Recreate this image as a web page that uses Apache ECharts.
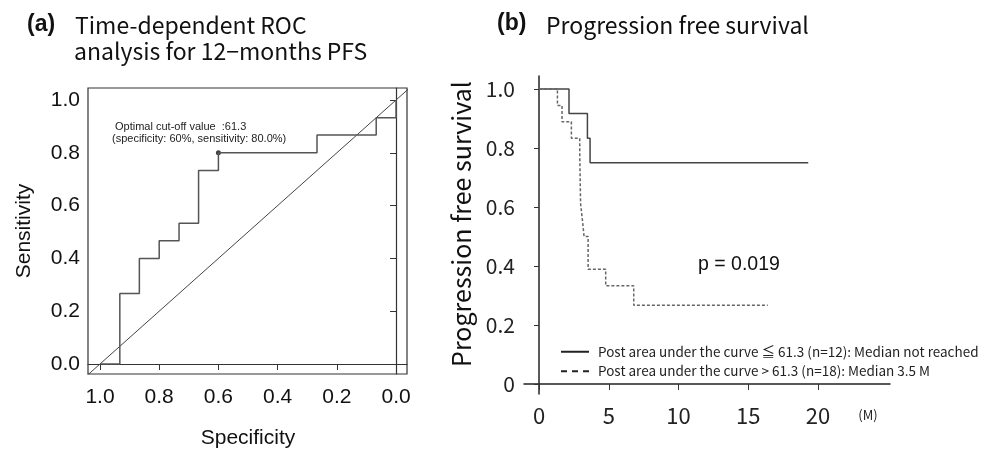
<!DOCTYPE html>
<html><head><meta charset="utf-8">
<script src="https://cdn.jsdelivr.net/npm/echarts@6.0.0/dist/echarts.min.js"></script>
<style>html,body{margin:0;padding:0;background:#fff}#c{width:987px;height:450px}</style>
</head><body><div id="c"></div>
<script>
// ---- Panel (a): time-dependent ROC ----
const rocSpecificity = [1.0, 0.933, 0.933, 0.867, 0.867, 0.8, 0.8, 0.733, 0.733, 0.667, 0.667, 0.6, 0.6, 0.267, 0.267, 0.067, 0.067, 0.0, 0.0];
const rocSensitivity = [0.0, 0.0, 0.267, 0.267, 0.4, 0.4, 0.467, 0.467, 0.533, 0.533, 0.733, 0.733, 0.8, 0.8, 0.867, 0.867, 0.933, 0.933, 1.0];
const cutoffSpecificity = [0.6];
const cutoffSensitivity = [0.8];
const refSpecificity = [1.05, -0.05];
const refSensitivity = [-0.05, 1.05];
const rocTicks = [0, 0.2, 0.4, 0.6, 0.8, 1.0];
const rocTickLabels = ['0.0', '0.2', '0.4', '0.6', '0.8', '1.0'];

// ---- Panel (b): Kaplan-Meier PFS ----
const lowTimes = [0, 2.15, 3.47, 3.66, 19.3];
const lowSurv = [1.0, 0.917, 0.833, 0.75, 0.75];
const highTimes = [0, 1.32, 1.65, 2.32, 2.92, 2.94, 2.96, 2.98, 3.11, 3.23, 3.52, 4.78, 6.79, 16.4];
const highSurv = [1.0, 0.944, 0.889, 0.833, 0.778, 0.722, 0.667, 0.611, 0.556, 0.5, 0.389, 0.333, 0.267, 0.267];
const kmXTicks = [0, 5, 10, 15, 20];
const kmYTicks = [0, 0.2, 0.4, 0.6, 0.8, 1.0];
const kmYTickLabels = ['0', '0.2', '0.4', '0.6', '0.8', '1.0'];
const groupNames = [
  'Post area under the curve \u2266 61.3 (n=12): Median not reached',
  'Post area under the curve > 61.3 (n=18): Median 3.5 M'
];

const zip = (a, b) => a.map((v, i) => [v, b[i]]);
const ARIAL = 'Liberation Sans, Arial, sans-serif';
const CJK = '"Noto Sans CJK JP", "Noto Sans", sans-serif';

const chart = echarts.init(document.getElementById('c'), null, {renderer: 'canvas'});
chart.setOption({
  animation: false,
  backgroundColor: '#fff',
  grid: [
    {left: 88, top: 88, width: 319, height: 286, show: true, borderColor: '#333', borderWidth: 1.2, backgroundColor: 'transparent'},
    {left: 524, top: 76, width: 366, height: 318}
  ],
  xAxis: [
    {
      gridIndex: 0, type: 'value', inverse: true, min: -0.037, max: 1.0405,
      axisLine: {show: true, lineStyle: {color: '#333', width: 1.2}},
      axisTick: {show: true, length: 6, customValues: rocTicks, lineStyle: {color: '#333'}},
      axisLabel: {customValues: rocTicks, margin: 13, fontSize: 21, fontFamily: ARIAL, color: '#111',
        formatter: v => rocTickLabels[rocTicks.findIndex(t => Math.abs(t - v) < 1e-6)]},
      splitLine: {show: false}
    },
    {
      gridIndex: 1, type: 'value', min: -1.076, max: 25.16,
      axisLine: {show: true, lineStyle: {color: '#222', width: 1.5}},
      axisTick: {show: true, length: 6, customValues: kmXTicks, lineStyle: {color: '#333'}},
      axisLabel: {customValues: kmXTicks, margin: 11, fontSize: 22, fontFamily: CJK, color: '#222'},
      splitLine: {show: false}
    }
  ],
  yAxis: [
    {
      gridIndex: 0, type: 'value', min: -0.0379, max: 1.0455,
      axisLine: {show: true, lineStyle: {color: '#333', width: 1.2}},
      axisTick: {show: true, length: 6, customValues: rocTicks, lineStyle: {color: '#333'}},
      axisLabel: {customValues: rocTicks, margin: 8, fontSize: 21, fontFamily: ARIAL, color: '#111',
        formatter: v => rocTickLabels[rocTicks.findIndex(t => Math.abs(t - v) < 1e-6)]},
      splitLine: {show: false}
    },
    {
      gridIndex: 1, type: 'value', min: -0.034, max: 1.044,
      axisLine: {show: true, lineStyle: {color: '#222', width: 1.5}},
      axisTick: {show: true, length: 5, customValues: kmYTicks, lineStyle: {color: '#333'}},
      axisLabel: {customValues: kmYTicks, margin: 9, fontSize: 21, fontFamily: CJK, color: '#222',
        formatter: v => kmYTickLabels[kmYTicks.findIndex(t => Math.abs(t - v) < 1e-6)]},
      splitLine: {show: false}
    }
  ],
  legend: {
    orient: 'vertical', left: 555, top: 340, itemGap: 6, itemWidth: 28, itemHeight: 14,
    selectedMode: false,
    itemStyle: {opacity: 0},
    data: [
      {name: groupNames[0], lineStyle: {color: '#222', width: 2}},
      {name: groupNames[1], lineStyle: {color: '#222', width: 2, type: [6, 5]}}
    ],
    textStyle: {fontFamily: CJK, fontSize: 13.5, color: '#222', padding: [0, 0, 0, 4]}
  },
  series: [
    {type: 'line', xAxisIndex: 0, yAxisIndex: 0, data: zip(refSpecificity, refSensitivity), symbol: 'none', clip: true,
      lineStyle: {color: '#444', width: 1}, silent: true},
    {type: 'line', xAxisIndex: 0, yAxisIndex: 0, data: zip(rocSpecificity, rocSensitivity), symbol: 'none', clip: true,
      lineStyle: {color: '#555', width: 1.5}},
    {type: 'scatter', xAxisIndex: 0, yAxisIndex: 0, data: zip(cutoffSpecificity, cutoffSensitivity), symbol: 'circle', symbolSize: 5,
      itemStyle: {color: '#111'}},
    {name: groupNames[0], type: 'line', xAxisIndex: 1, yAxisIndex: 1, data: zip(lowTimes, lowSurv), step: 'end', symbol: 'none',
      lineStyle: {color: '#444', width: 1.5}, itemStyle: {color: '#333', opacity: 0}},
    {name: groupNames[1], type: 'line', xAxisIndex: 1, yAxisIndex: 1, data: zip(highTimes, highSurv), step: 'end', symbol: 'none',
      lineStyle: {color: '#666', width: 1.5, type: [3, 2]}, itemStyle: {color: '#333', opacity: 0}}
  ],
  graphic: [
    {type: 'text', x: 27, y: 25, style: {text: '(a)', font: 'bold 23px ' + ARIAL, fill: '#111', textVerticalAlign: 'middle'}},
    {type: 'text', x: 75, y: 25, style: {text: 'Time-dependent ROC', font: '23px ' + CJK, fill: '#111', textVerticalAlign: 'middle'}},
    {type: 'text', x: 74, y: 51, style: {text: 'analysis for 12\u2212months PFS', font: '23px ' + CJK, fill: '#111', textVerticalAlign: 'middle'}},
    {type: 'text', x: 115, y: 127, style: {text: 'Optimal cut-off value  :61.3', font: '11px ' + ARIAL, fill: '#222', textVerticalAlign: 'middle'}},
    {type: 'text', x: 112, y: 139, style: {text: '(specificity: 60%, sensitivity: 80.0%)', font: '11px ' + ARIAL, fill: '#222', textVerticalAlign: 'middle'}},
    {type: 'text', x: 24, y: 231, rotation: Math.PI / 2, style: {text: 'Sensitivity', font: '21px ' + ARIAL, fill: '#111', textAlign: 'center', textVerticalAlign: 'middle'}},
    {type: 'text', x: 248, y: 438, style: {text: 'Specificity', font: '21px ' + ARIAL, fill: '#111', textAlign: 'center', textVerticalAlign: 'middle'}},
    {type: 'text', x: 497, y: 24, style: {text: '(b)', font: 'bold 23px ' + ARIAL, fill: '#111', textVerticalAlign: 'middle'}},
    {type: 'text', x: 546, y: 25, style: {text: 'Progression free survival', font: '23px ' + CJK, fill: '#111', textVerticalAlign: 'middle'}},
    {type: 'text', x: 461, y: 224, rotation: Math.PI / 2, style: {text: 'Progression free survival', font: '25px ' + CJK, fill: '#111', textAlign: 'center', textVerticalAlign: 'middle'}},
    {type: 'text', x: 698, y: 265, style: {text: 'p = 0.019', font: '19.5px ' + ARIAL, fill: '#111', textVerticalAlign: 'middle'}},
    {type: 'text', x: 868, y: 415, style: {text: '(M)', font: '13px ' + CJK, fill: '#222', textAlign: 'center', textVerticalAlign: 'middle'}}
  ]
});
</script></body></html>
